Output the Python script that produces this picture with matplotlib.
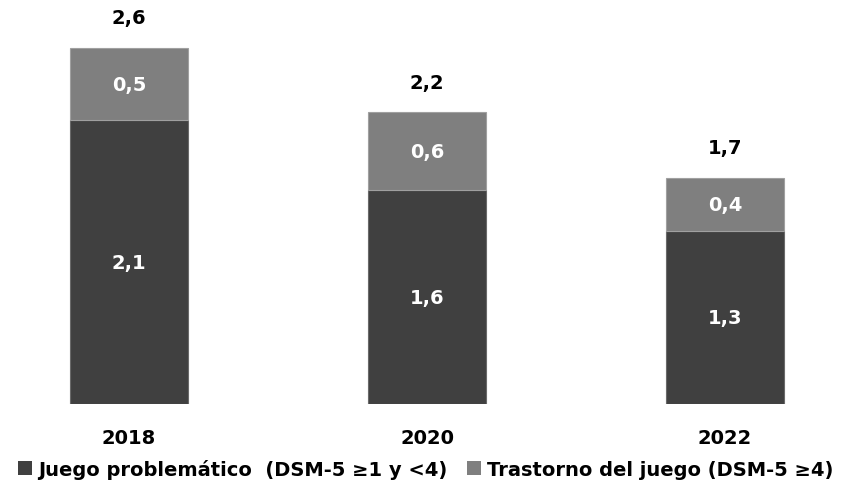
import matplotlib
matplotlib.use("Agg")
import matplotlib.pyplot as plt
from matplotlib.patches import Patch

years = ["2018", "2020", "2022"]
juego_problematico = [2.07, 1.56, 1.26]
trastorno = [0.53, 0.57, 0.39]
label_bottom = ["2,1", "1,6", "1,3"]
label_top = ["0,5", "0,6", "0,4"]
label_total = ["2,6", "2,2", "1,7"]
legend_labels = ["Juego problemático  (DSM-5 ≥1 y <4)", "Trastorno del juego (DSM-5 ≥4)"]

dark = "#404040"
mid = "#7f7f7f"
FAM = ["DejaVu Sans"]
plt.rcParams["font.family"] = FAM

W, H = 851, 489
fig = plt.figure(figsize=(W / 100, H / 100), dpi=100)
base_px = 405
ppu = 137.0
ax = fig.add_axes([0, (H - base_px) / H, 1, base_px / H])
x = list(range(len(years)))
ax.set_xlim(-129 / 298, (W - 129) / 298)
ax.set_ylim(0, base_px / ppu)

bw = 118 / 298
ax.bar(x, juego_problematico, width=bw, color=dark, edgecolor="#6a6a6a", linewidth=0.8)
ax.bar(x, trastorno, width=bw, bottom=juego_problematico, color=mid, edgecolor="#a0a0a0", linewidth=0.8)

fs = 14
for i in x:
    b = juego_problematico[i]
    t = trastorno[i]
    ax.text(i, b / 2, label_bottom[i], ha="center", va="center", color="white",
            fontsize=fs, fontweight="bold")
    ax.text(i, b + t / 2, label_top[i], ha="center", va="center", color="white",
            fontsize=fs, fontweight="bold")
    ax.text(i, b + t + 0.22, label_total[i], ha="center", va="center", color="black",
            fontsize=fs, fontweight="bold")

ax.set_xticks(x)
ax.set_xticklabels(years, fontsize=fs, fontweight="bold")
ax.tick_params(axis="x", length=0, pad=17)
ax.set_yticks([])
for s in ax.spines.values():
    s.set_visible(False)

handles = [Patch(facecolor=dark, edgecolor="none"), Patch(facecolor=mid, edgecolor="none")]
fig.legend(handles, legend_labels, loc="center", bbox_to_anchor=(0.5, (H - 470) / H),
           ncol=2, frameon=False, prop={"size": 14, "weight": "bold", "family": FAM},
           handlelength=0.75, handleheight=0.75, handletextpad=0.3, columnspacing=1.0,
           borderaxespad=0, borderpad=0)

fig.savefig("out.png", dpi=100)
